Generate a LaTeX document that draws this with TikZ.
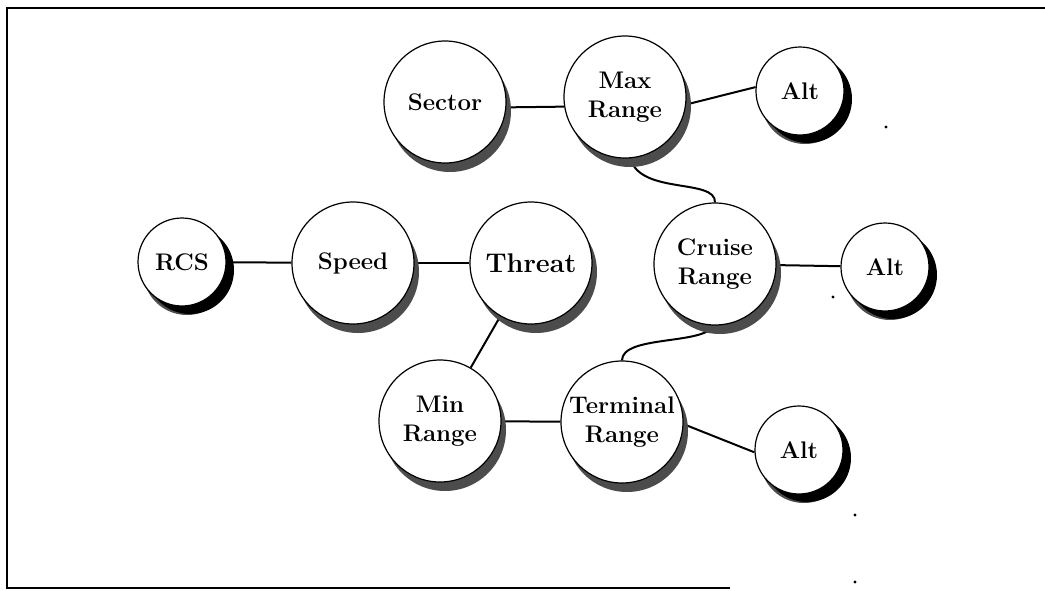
\documentclass[tikz,border=0pt]{standalone}
\usetikzlibrary{shadows,backgrounds}
\begin{document}
\begin{tikzpicture}[x=0.5pt,y=-0.5pt,
	bub/.style={circle,draw,line width=0.6pt,fill=white,inner sep=0pt,minimum size=61pt,align=center,
		font=\bfseries\fontsize{12}{14.5}\selectfont,
		general shadow={fill=black!70,shadow xshift=2.5pt,shadow yshift=-4.5pt}},
	smallbub/.style={bub,minimum size=44pt,general shadow={fill=black,shadow xshift=4pt,shadow yshift=-4pt}},
	link/.style={line width=1pt}]
		\useasboundingbox (0,0) rectangle (1045,590);
		\draw[line width=1pt] (730,588) -- (7,588) -- (7,8) -- (1045,8);
		\node[bub] (sector) at (445,102) {Sector};
		\node[bub] (maxr) at (625,97) {Max\\Range};
		\node[smallbub] (alta) at (800,91) {Alt};
		\node[smallbub] (rcs) at (182,262) {RCS};
		\node[bub] (speed) at (353,263) {Speed};
		\node[bub,font=\bfseries\fontsize{13.5}{16}\selectfont] (threat) at (531,263) {Threat};
		\node[bub] (cruise) at (715,264) {Cruise\\Range};
		\node[smallbub] (altb) at (885,267) {Alt};
		\node[bub] (minr) at (440,421) {Min\\Range};
		\node[bub] (term) at (622,422) {Terminal\\Range};
		\node[smallbub] (altc) at (799,450) {Alt};
		% links behind the bubbles
		\begin{scope}[on background layer]
		\draw[link] (sector.-5) -- (maxr.189);
		\draw[link] (maxr.-7) -- (alta.175);
		\draw[link] (maxr.-85) .. controls (640,195) and (716,178) .. (cruise.north);
		\draw[link] (rcs) -- (speed);
		\draw[link] (speed) -- (threat);
		\draw[link] (cruise) -- (altb);
		\draw[link] (threat) -- (minr);
		\draw[link] (cruise.-92) .. controls (705,345) and (622,335) .. (term.north);
		\draw[link] (minr) -- (term);
		\draw[link] (term.-2) -- (altc.183);
		\end{scope}
		\fill (886,127) circle (0.8pt) (833,297) circle (0.8pt) (855,515) circle (0.8pt) (855,582) circle (0.8pt);
\end{tikzpicture}
\end{document}
